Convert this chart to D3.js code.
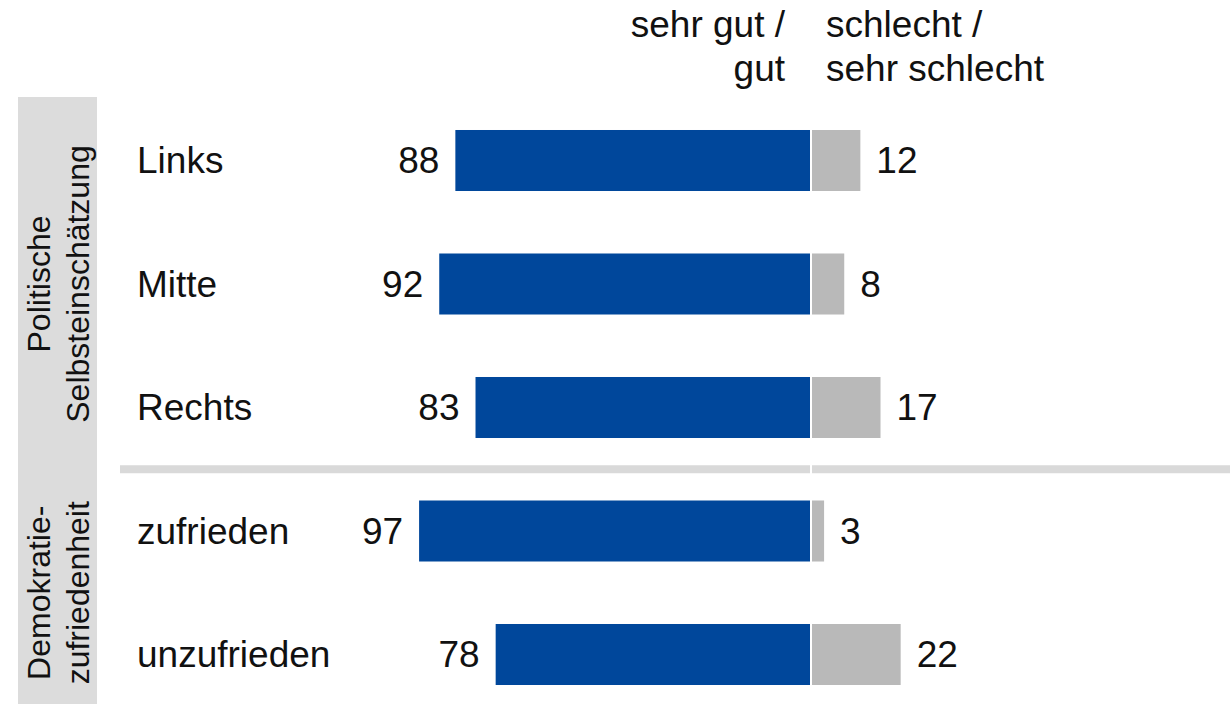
<!DOCTYPE html>
<html>
<head>
<meta charset="utf-8">
<script src="https://cdn.jsdelivr.net/npm/d3@7"></script>
<style>
  html, body { margin: 0; padding: 0; background: #fff; }
  svg { display: block; font-family: "Liberation Sans", Arial, sans-serif; }
</style>
</head>
<body>
<svg id="chart" width="1230" height="704"></svg>
<script>
const categories = ["Links", "Mitte", "Rechts", "zufrieden", "unzufrieden"];
const goodValues = [88, 92, 83, 97, 78];
const badValues = [12, 8, 17, 3, 22];
const groupNames = [["Politische", "Selbsteinschätzung"], ["Demokratie-", "zufriedenheit"]];
const groupMembers = [["Links", "Mitte", "Rechts"], ["zufrieden", "unzufrieden"]];
const headerGood = ["sehr gut /", "gut"];
const headerBad = ["schlecht /", "sehr schlecht"];

const W = 1230, H = 704;
const svg = d3.select("#chart");
const center = 810, gap = 2;
const blue = "#00479b", grey = "#b9b9b9", band = "#dcdcdc";
const fs = 37;

const xScale = d3.scaleLinear().domain([0, 100]).range([0, 403]);
const y = d3.scaleBand().domain(categories).range([98.75, 716.25]).paddingInner(0.506).paddingOuter(0.253);

// left grey strip
svg.append("rect").attr("x", 18).attr("y", 97).attr("width", 79).attr("height", H - 97).attr("fill", band);

// group labels
groupNames.forEach((lines, gi) => {
  const mem = groupMembers[gi];
  const yc = (y(mem[0]) + y(mem[mem.length - 1]) + y.bandwidth()) / 2;
  const t = svg.append("text")
    .attr("transform", `translate(50,${yc}) rotate(-90)`)
    .attr("text-anchor", "middle")
    .attr("font-size", 32).attr("fill", "#111");
  lines.forEach((l, i) => t.append("tspan").attr("x", 0).attr("dy", i === 0 ? 0 : 39).text(l));
});

// separator
const sepY = (y("Rechts") + y.bandwidth() + y("zufrieden")) / 2;
svg.append("rect").attr("x", 120).attr("y", sepY - 4).attr("width", center - 120).attr("height", 8).attr("fill", "#d9d9d9");
svg.append("rect").attr("x", center + gap).attr("y", sepY - 4).attr("width", W - center - gap).attr("height", 8).attr("fill", "#d9d9d9");

// headers
const hg = svg.append("text").attr("text-anchor", "end").attr("font-size", fs).attr("fill", "#111");
headerGood.forEach((l, i) => hg.append("tspan").attr("x", 785).attr("y", 37 + i * 44).text(l));
const hb = svg.append("text").attr("text-anchor", "start").attr("font-size", fs).attr("fill", "#111");
headerBad.forEach((l, i) => hb.append("tspan").attr("x", 826).attr("y", 37 + i * 44).text(l));

const rows = svg.append("g").selectAll("g").data(categories).join("g")
  .attr("transform", d => `translate(0,${y(d)})`);

rows.append("text").attr("x", 137).attr("y", y.bandwidth() / 2 + 13)
  .attr("font-size", fs).attr("fill", "#111").text(d => d);

rows.append("rect")
  .attr("x", (d, i) => center - xScale(goodValues[i]))
  .attr("width", (d, i) => xScale(goodValues[i]))
  .attr("height", y.bandwidth()).attr("fill", blue);

rows.append("rect")
  .attr("x", center + gap)
  .attr("width", (d, i) => xScale(badValues[i]))
  .attr("height", y.bandwidth()).attr("fill", grey);

rows.append("text")
  .attr("x", (d, i) => center - xScale(goodValues[i]) - 16)
  .attr("y", y.bandwidth() / 2 + 13)
  .attr("text-anchor", "end").attr("font-size", fs).attr("fill", "#111")
  .text((d, i) => goodValues[i]);

rows.append("text")
  .attr("x", (d, i) => center + gap + xScale(badValues[i]) + 16)
  .attr("y", y.bandwidth() / 2 + 13)
  .attr("text-anchor", "start").attr("font-size", fs).attr("fill", "#111")
  .text((d, i) => badValues[i]);
</script>
</body>
</html>
